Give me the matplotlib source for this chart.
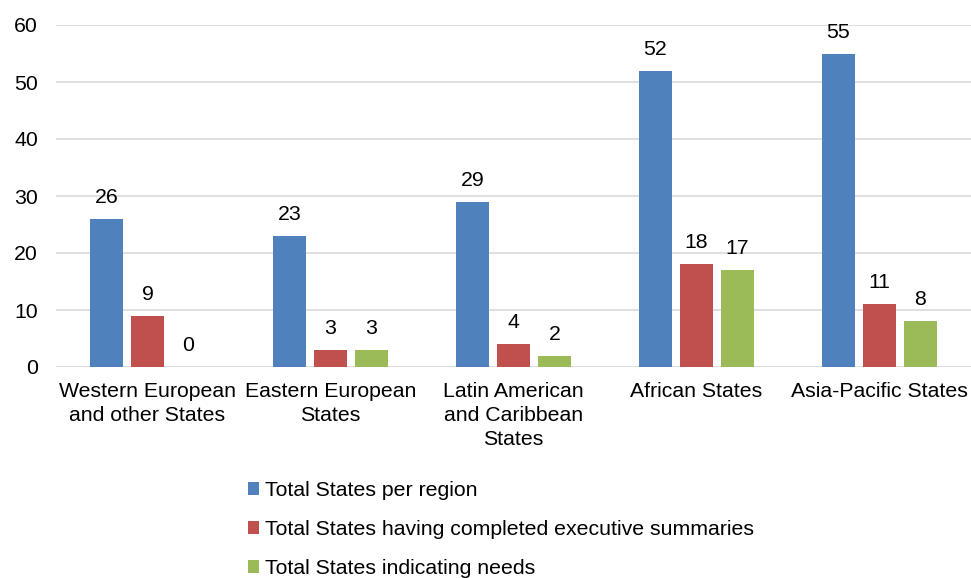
import matplotlib
matplotlib.use("Agg")
import matplotlib.pyplot as plt
import numpy as np

plt.rcParams['font.family'] = ['Liberation Sans', 'DejaVu Sans']

categories = ["Western European\nand other States", "Eastern European\nStates",
              "Latin American\nand Caribbean\nStates", "African States", "Asia-Pacific States"]
series_names = ["Total States per region",
                "Total States having completed executive summaries",
                "Total States indicating needs"]
total_states = [26, 23, 29, 52, 55]
completed_summaries = [9, 3, 4, 18, 11]
indicating_needs = [0, 3, 2, 17, 8]
colors = ["#4F81BD", "#C0504D", "#9BBB59"]
y_ticks = [0, 10, 20, 30, 40, 50, 60]

FS = 15.3

fig = plt.figure(figsize=(9.71, 5.78), dpi=100)
ax = fig.add_axes([56 / 971, 1 - 367 / 578, 915 / 971, (367 - 25) / 578])

x = np.arange(len(categories))
width = 0.175
step = 0.224
handles = []
for i, (vals, col, name) in enumerate(zip([total_states, completed_summaries, indicating_needs],
                                           colors, series_names)):
    pos = x + (i - 1) * step
    bars = ax.bar(pos, vals, width, color=col, label=name, zorder=3)
    handles.append(bars)
    for px, v in zip(pos, vals):
        ax.annotate(str(v), (px, v), xytext=(0, 11.5), textcoords="offset points",
                    ha="center", va="baseline", fontsize=FS, color="#000000")

ax.set_xlim(-0.5, len(categories) - 0.5)
ax.set_ylim(0, 60)
ax.set_yticks(y_ticks)
ax.set_xticks(x)
ax.set_xticklabels(categories, fontsize=FS, linespacing=1.32)
ax.tick_params(axis="y", length=0, pad=13, labelsize=FS)
ax.tick_params(axis="x", length=0, pad=11)
ax.grid(axis="y", color="#D9D9D9", linewidth=1.2, zorder=0)
for s in ax.spines.values():
    s.set_visible(False)

fig.legend(handles=handles, labels=series_names, loc="upper left",
           bbox_to_anchor=(248 / 971, 1 - 481 / 578), frameon=False, fontsize=FS,
           handlelength=0.52, handleheight=0.52, handletextpad=0.28, labelspacing=0.94,
           borderaxespad=0, borderpad=0)

fig.savefig("out.png", dpi=100)
